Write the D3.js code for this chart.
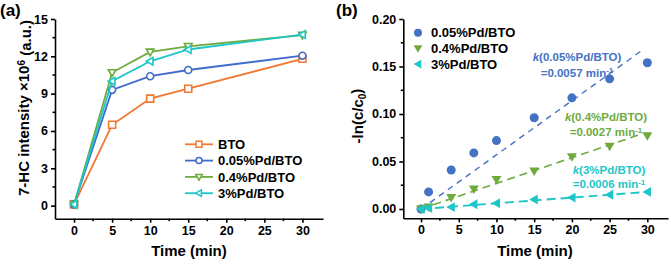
<!DOCTYPE html>
<html>
<head>
<meta charset="utf-8">
<script src="https://cdn.jsdelivr.net/npm/d3@7"></script>
<style>
  body { margin: 0; background: #fff; }
  svg { display: block; font-family: "Liberation Sans", Arial, sans-serif; font-weight: bold; }
  .axis path, .axis line { stroke: #000; stroke-width: 1.6; }
  .axis text { font-size: 12.5px; font-weight: bold; fill: #000; }
</style>
</head>
<body>
<svg id="chart" width="671" height="264"></svg>
<script>
// ---- panel (a) data
var timesA = [0, 5, 10, 15, 30];
var namesA = ["BTO", "0.05%Pd/BTO", "0.4%Pd/BTO", "3%Pd/BTO"];
var btoA = [0.1, 6.5, 8.6, 9.4, 11.8];
var pd005A = [0.1, 9.3, 10.4, 10.9, 12.05];
var pd04A = [0.1, 10.7, 12.35, 12.8, 13.7];
var pd3A = [0.1, 10.0, 11.6, 12.55, 13.75];
var yTicksA = [0, 3, 6, 9, 12, 15];
var xTicks = [0, 5, 10, 15, 20, 25, 30];

// ---- panel (b) data
var timesB = [0, 1, 4, 7, 10, 15, 20, 25, 30];
var namesB = ["0.05%Pd/BTO", "0.4%Pd/BTO", "3%Pd/BTO"];
var pd005B = [0, 0.018, 0.041, 0.059, 0.072, 0.096, 0.117, 0.137, 0.154];
var pd04B = [0, 0.002, 0.012, 0.021, 0.031, 0.040, 0.055, 0.066, 0.077];
var pd3B = [0, 0.001, 0.002, 0.005, 0.006, 0.010, 0.012, 0.015, 0.018];
var kValues = [0.0057, 0.0027, 0.0006];
var kLabels = ["=0.0057 min", "=0.0027 min", "=0.0006 min"];
var fitEnd = [29.3, 29.4, 30];
var yTicksB = [0, 0.05, 0.10, 0.15, 0.20];

var colA = ["#F07832", "#3F6BCB", "#6FAA3E", "#1EC6C8"];
var colB = ["#4472C4", "#6FAA3E", "#1EC6C8"];

var svg = d3.select("#chart");

function symbolPath(kind, s) {
  var h = s / 2;
  if (kind === "square") return "M" + (-h) + "," + (-h) + "h" + s + "v" + s + "h" + (-s) + "Z";
  if (kind === "down") return "M" + (-h * 1.1) + "," + (-h * 0.8) + "L" + (h * 1.1) + "," + (-h * 0.8) + "L0," + (h * 1.1) + "Z";
  if (kind === "left") return "M" + (-h * 1.1) + ",0L" + (h * 0.8) + "," + (-h * 1.1) + "L" + (h * 0.8) + "," + (h * 1.1) + "Z";
  return d3.symbol(d3.symbolCircle, s * s * 0.785)();
}

function drawAxes(g, x, y, yTicks, yMinor, xMinor, yFmt) {
  var gx = g.append("g").attr("class", "axis")
    .attr("transform", "translate(0," + y.range()[0] + ")")
    .call(d3.axisBottom(x).tickValues(xTicks).tickSize(4).tickPadding(3).tickSizeOuter(0));
  gx.append("g").selectAll("line").data(xMinor).join("line")
    .attr("x1", function (d) { return x(d); }).attr("x2", function (d) { return x(d); })
    .attr("y1", 0).attr("y2", 2.5).attr("stroke", "#000").attr("stroke-width", 1.4);
  var gy = g.append("g").attr("class", "axis")
    .attr("transform", "translate(" + x.range()[0] + ",0)")
    .call(d3.axisLeft(y).tickValues(yTicks).tickFormat(yFmt).tickSize(4).tickPadding(3).tickSizeOuter(0));
  gy.append("g").selectAll("line").data(yMinor).join("line")
    .attr("y1", function (d) { return y(d); }).attr("y2", function (d) { return y(d); })
    .attr("x1", 0).attr("x2", -2.5).attr("stroke", "#000").attr("stroke-width", 1.4);
}

// ================= panel (a)
var xA = d3.scaleLinear().domain([-2.5, 32.7]).range([55, 323]);
var yA = d3.scaleLinear().domain([-1.05, 15]).range([218.7, 19]);
var gA = svg.append("g");
drawAxes(gA, xA, yA, yTicksA, [1.5, 4.5, 7.5, 10.5, 13.5], [2.5, 7.5, 12.5, 17.5, 22.5, 27.5], d3.format("d"));

var seriesA = [btoA, pd005A, pd04A, pd3A];
var shapesA = ["square", "circle", "down", "left"];
var lineA = d3.line().x(function (d) { return xA(d[0]); }).y(function (d) { return yA(d[1]); });

seriesA.forEach(function (vals, i) {
  var pts = timesA.map(function (t, j) { return [t, vals[j]]; });
  gA.append("path").attr("d", lineA(pts)).attr("fill", "none")
    .attr("stroke", colA[i]).attr("stroke-width", 1.8);
  gA.selectAll(".m" + i).data(pts).join("path")
    .attr("transform", function (d) { return "translate(" + xA(d[0]) + "," + yA(d[1]) + ")"; })
    .attr("d", symbolPath(shapesA[i], 7))
    .attr("fill", "#fff").attr("stroke", colA[i]).attr("stroke-width", 1.6);
});

// legend (a)
namesA.forEach(function (n, i) {
  var yy = 144.3 + i * 16.3;
  gA.append("line").attr("x1", 185).attr("x2", 213).attr("y1", yy).attr("y2", yy)
    .attr("stroke", colA[i]).attr("stroke-width", 1.8);
  gA.append("path").attr("transform", "translate(199," + yy + ")")
    .attr("d", symbolPath(shapesA[i], 6))
    .attr("fill", "#fff").attr("stroke", colA[i]).attr("stroke-width", 1.5);
  gA.append("text").attr("x", 218).attr("y", yy).attr("dy", "0.36em")
    .style("font-size", "13px").text(n);
});

// titles (a)
gA.append("text").attr("x", 189).attr("y", 256).attr("text-anchor", "middle")
  .style("font-size", "15px").text("Time (min)");
var ytA = gA.append("text").attr("transform", "translate(29,108) rotate(-90)")
  .attr("text-anchor", "middle").style("font-size", "15px");
ytA.append("tspan").text("7-HC intensity ×10");
ytA.append("tspan").attr("dy", "-0.45em").style("font-size", "10px").text("6");
ytA.append("tspan").attr("dy", "0.45em").text(" (a.u.)");
gA.append("text").attr("x", 0).attr("y", 16).style("font-size", "17px").text("(a)");

// ================= panel (b)
var xB = d3.scaleLinear().domain([-2.35, 32.74]).range([403.3, 668]);
var yB = d3.scaleLinear().domain([-0.0098, 0.2]).range([218.3, 19]);
var gB = svg.append("g");
drawAxes(gB, xB, yB, yTicksB, [0.025, 0.075, 0.125, 0.175], [2.5, 7.5, 12.5, 17.5, 22.5, 27.5], d3.format(".2f"));

var seriesB = [pd005B, pd04B, pd3B];
var shapesB = ["circle", "down", "left"];
var dashB = ["6,5", "8,5", "9,5"];
var widthB = [1.4, 1.6, 1.9];

seriesB.forEach(function (vals, i) {
  var k = kValues[i];
  gB.append("line")
    .attr("x1", xB(0)).attr("y1", yB(0))
    .attr("x2", xB(fitEnd[i])).attr("y2", yB(k * fitEnd[i]))
    .attr("stroke", colB[i]).attr("stroke-width", widthB[i]).attr("stroke-dasharray", dashB[i]);
});
seriesB.forEach(function (vals, i) {
  gB.selectAll(".b" + i).data(timesB.map(function (t, j) { return [t, vals[j]]; })).join("path")
    .attr("transform", function (d) { return "translate(" + xB(d[0]) + "," + yB(d[1]) + ")"; })
    .attr("d", symbolPath(shapesB[i], 9))
    .attr("fill", colB[i]);
});

// legend (b)
namesB.forEach(function (n, i) {
  var yy = 32.7 + i * 15.7;
  gB.append("path").attr("transform", "translate(418," + yy + ")")
    .attr("d", symbolPath(shapesB[i], 8)).attr("fill", colB[i]);
  gB.append("text").attr("x", 431).attr("y", yy).attr("dy", "0.36em")
    .style("font-size", "13px").text(n);
});

// k annotations
var annPos = [[577, 57, 72.5], [606, 117, 132], [609, 170, 184]];
namesB.forEach(function (n, i) {
  var t1 = gB.append("text").attr("x", annPos[i][0]).attr("y", annPos[i][1]).attr("dy", "0.36em")
    .attr("text-anchor", "middle").attr("fill", colB[i]).style("font-size", "11.5px");
  t1.append("tspan").style("font-style", "italic").text("k");
  t1.append("tspan").text("(" + n + ")");
  var t2 = gB.append("text").attr("x", annPos[i][0]).attr("y", annPos[i][2]).attr("dy", "0.36em")
    .attr("text-anchor", "middle").attr("fill", colB[i]).style("font-size", "11.5px");
  t2.append("tspan").text(kLabels[i]);
  t2.append("tspan").attr("dy", "-0.4em").style("font-size", "8px").text("-1");
});

// titles (b)
gB.append("text").attr("x", 535).attr("y", 256).attr("text-anchor", "middle")
  .style("font-size", "15px").text("Time (min)");
var ytB = gB.append("text").attr("transform", "translate(363,116) rotate(-90)")
  .attr("text-anchor", "middle").style("font-size", "15px");
ytB.append("tspan").text("-ln(c/c");
ytB.append("tspan").attr("dy", "0.3em").style("font-size", "10px").text("0");
ytB.append("tspan").attr("dy", "-0.3em").text(")");
gB.append("text").attr("x", 336).attr("y", 16).style("font-size", "17px").text("(b)");
</script>
</body>
</html>
